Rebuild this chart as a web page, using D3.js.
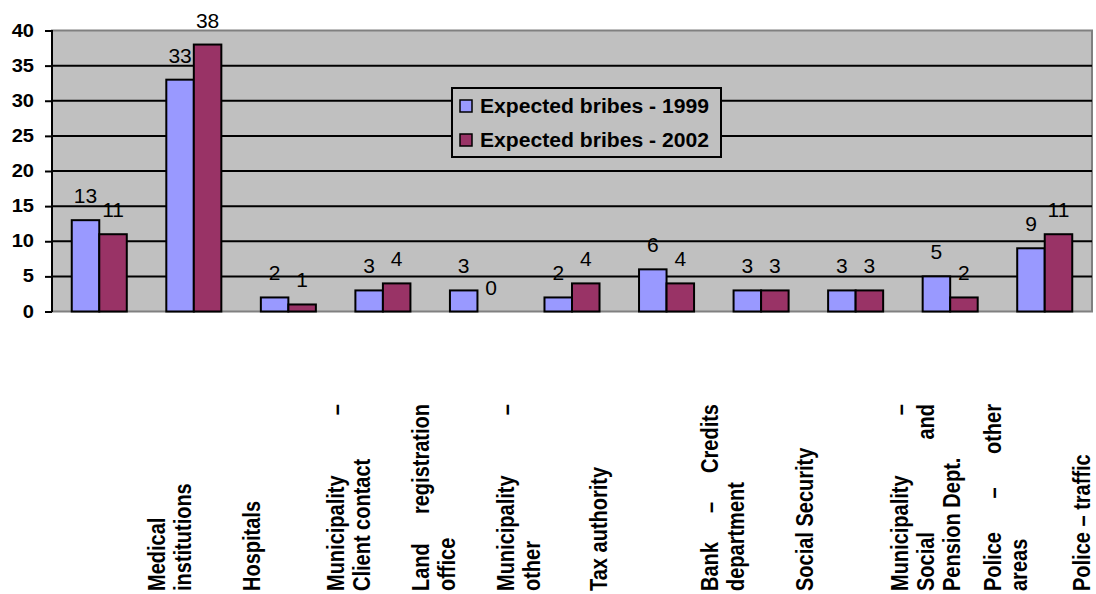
<!DOCTYPE html>
<html>
<head>
<meta charset="utf-8">
<script src="https://cdn.jsdelivr.net/npm/d3@7/dist/d3.min.js"></script>
<style>
  body { margin: 0; background: #fff; }
  text { font-family: Arial, "Liberation Sans", sans-serif; }
</style>
</head>
<body>
<div id="chart"></div>
<script>
// categories (line breaks = how the labels wrap)
var categories = [
  "Medical\ninstitutions",
  "Hospitals",
  "Municipality –\nClient contact",
  "Land registration\noffice",
  "Municipality –\nother",
  "Tax authority",
  "Bank – Credits\ndepartment",
  "Social Security",
  "Municipality –\nSocial and\nPension Dept.",
  "Police – other\nareas",
  "Police – traffic"
];
var seriesNames = ["Expected bribes - 1999", "Expected bribes - 2002"];
var bribes1999 = [13, 33, 2, 3, 3, 2, 6, 3, 3, 5, 9];
var bribes2002 = [11, 38, 1, 4, 0, 4, 4, 3, 3, 2, 11];
var yTicks = [0, 5, 10, 15, 20, 25, 30, 35, 40];

// layout
var W = 1096, H = 594;
var plot = {left: 52, right: 1092, top: 30.5, bottom: 311.5};
var colors = ["#9999ff", "#993366"];
// excel puts the rotated labels a little off the band centre
var labelNudge = [66, 66, 56, 46, 37, 35, 51, 52, 52, 51, 45];
var labelBottom = 591, labelTop = 404, lineGap = 26;
var stretch = 1.15; // the picture is a bit wider than tall

var svg = d3.select("#chart").append("svg")
    .attr("width", W)
    .attr("height", H);

svg.append("rect")
    .attr("width", W).attr("height", H)
    .attr("fill", "#fff");

var x0 = d3.scaleBand()
    .domain(categories)
    .range([plot.left, plot.right]);

var x1 = d3.scaleBand()
    .domain(seriesNames)
    .range([0, x0.bandwidth()])
    .paddingOuter(0.718);

var y = d3.scaleLinear()
    .domain([0, 40])
    .range([plot.bottom, plot.top]);

// plot background
svg.append("rect")
    .attr("x", plot.left)
    .attr("y", plot.top)
    .attr("width", plot.right - plot.left)
    .attr("height", plot.bottom - plot.top)
    .attr("fill", "#c0c0c0")
    .attr("stroke", "#808080")
    .attr("stroke-width", 2);

// gridlines
svg.selectAll(".grid")
  .data(yTicks.filter(function(d) { return d > 0 && d < 40; }))
  .enter()
  .append("line")
    .attr("x1", plot.left)
    .attr("x2", plot.right)
    .attr("y1", function(d) { return y(d); })
    .attr("y2", function(d) { return y(d); })
    .attr("stroke", "#000")
    .attr("stroke-width", 2);

// y axis
var yAxis = svg.append("g")
    .attr("transform", "translate(" + plot.left + ",0)")
    .call(d3.axisLeft(y).tickValues(yTicks).tickSize(7).tickPadding(11));
yAxis.select(".domain").attr("stroke-width", 2).attr("d", "M0," + (plot.top - 0.5) + "V" + (plot.bottom + 0.5));
yAxis.selectAll(".tick line").attr("stroke-width", 2);
yAxis.selectAll(".tick text")
    .attr("font-family", "Arial, 'Liberation Sans', sans-serif")
    .attr("font-size", 17.5)
    .attr("font-weight", "bold")
    .attr("fill", "#000")
    .attr("transform", "translate(-18,0) scale(" + stretch + ",1) translate(18,0)");

// bars
var rows = categories.map(function(c, i) {
  return {cat: c, values: [
    {name: seriesNames[0], value: bribes1999[i], idx: 0},
    {name: seriesNames[1], value: bribes2002[i], idx: 1}
  ]};
});

var groups = svg.selectAll(".group")
  .data(rows)
  .enter()
  .append("g")
    .attr("transform", function(d) { return "translate(" + x0(d.cat) + ",0)"; });

groups.selectAll("rect")
  .data(function(d) { return d.values; })
  .enter()
  .append("rect")
    .attr("x", function(d) { return x1(d.name); })
    .attr("y", function(d) { return y(d.value); })
    .attr("width", x1.bandwidth())
    .attr("height", function(d) { return y(0) - y(d.value); })
    .attr("fill", function(d) { return colors[d.idx]; })
    .attr("stroke", "#000")
    .attr("stroke-width", 2)
    .style("display", function(d) { return d.value > 0 ? null : "none"; });

groups.selectAll(".val")
  .data(function(d) { return d.values; })
  .enter()
  .append("text")
    .attr("transform", function(d) {
      return "translate(" + (x1(d.name) + x1.bandwidth() / 2) + "," + (y(d.value) - 17) + ") scale(1.05,1)";
    })
    .attr("text-anchor", "middle")
    .attr("font-size", 20)
    .attr("fill", "#000")
    .text(function(d) { return d.value; });

// category labels, rotated and justified like excel does
var measure = svg.append("text")
    .attr("font-size", 20)
    .attr("font-weight", "bold")
    .attr("visibility", "hidden");
function wordWidth(w) {
  measure.text(w);
  return measure.node().getComputedTextLength();
}
var spanLen = labelBottom - labelTop;

categories.forEach(function(cat, i) {
  var lines = cat.split("\n");
  var cx = x0(cat) + x0.bandwidth() / 2 + labelNudge[i];
  lines.forEach(function(line, j) {
    var lx = cx + j * lineGap;
    var words = line.split(" ");
    var last = j === lines.length - 1;
    var widths = words.map(wordWidth);
    var gap;
    if (!last && words.length > 1) {
      gap = (spanLen - d3.sum(widths)) / (words.length - 1);
    } else {
      gap = wordWidth("a b") - wordWidth("ab");
    }
    var pos = 0;
    words.forEach(function(w, k) {
      svg.append("text")
          .attr("transform", "translate(" + lx + "," + (labelBottom - pos) + ") scale(" + stretch + ",1) rotate(-90)")
          .attr("font-size", 20)
          .attr("font-weight", "bold")
          .attr("fill", "#000")
          .text(w);
      pos += widths[k] + gap;
    });
  });
});
measure.remove();

// legend
var legend = svg.append("g");
legend.append("rect")
    .attr("x", 452).attr("y", 88)
    .attr("width", 269).attr("height", 69)
    .attr("fill", "#c0c0c0")
    .attr("stroke", "#000")
    .attr("stroke-width", 2);

var items = legend.selectAll(".item")
  .data(seriesNames)
  .enter()
  .append("g")
    .attr("transform", function(d, i) { return "translate(460," + (100 + i * 34) + ")"; });
items.append("rect")
    .attr("width", 12).attr("height", 12)
    .attr("fill", function(d, i) { return colors[i]; })
    .attr("stroke", "#000")
    .attr("stroke-width", 1.5);
items.append("text")
    .attr("x", 20)
    .attr("y", 12.5)
    .attr("font-size", 20)
    .attr("font-weight", "bold")
    .attr("textLength", 229)
    .attr("lengthAdjust", "spacingAndGlyphs")
    .attr("fill", "#000")
    .text(function(d) { return d; });
</script>
</body>
</html>
